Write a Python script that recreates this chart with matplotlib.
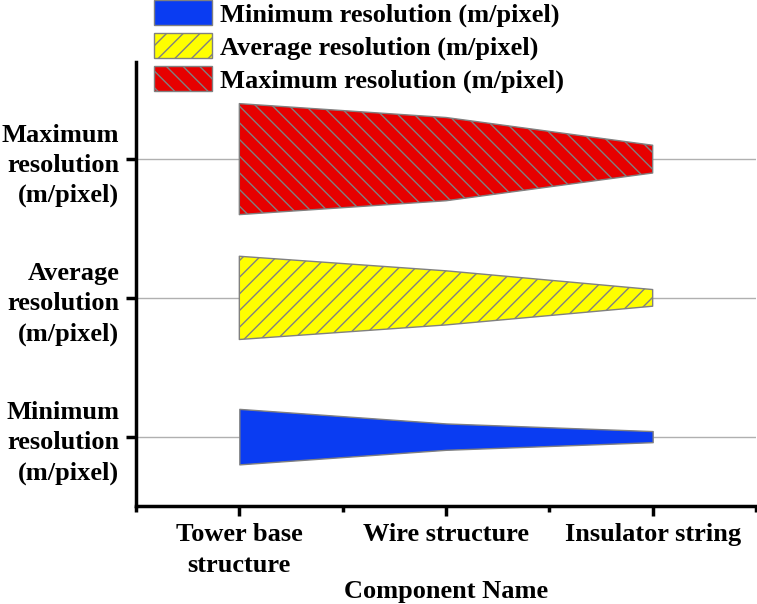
import matplotlib
matplotlib.use("Agg")
import matplotlib.pyplot as plt
import numpy as np
from matplotlib.ticker import FixedLocator

plt.rcParams['font.family'] = ['Liberation Serif', 'DejaVu Serif']
plt.rcParams['font.weight'] = 'bold'
plt.rcParams['hatch.color'] = '#808080'
plt.rcParams['hatch.linewidth'] = 1.0

# components on the x axis
components = ['Tower base\nstructure', 'Wire structure', 'Insulator string']
# rows (bottom to top)
series = ['Minimum resolution (m/pixel)', 'Average resolution (m/pixel)', 'Maximum resolution (m/pixel)']
row_labels = ['Minimum\nresolution\n(m/pixel)', 'Average\nresolution\n(m/pixel)', 'Maximum\nresolution\n(m/pixel)']

# band half-widths (in row units)
min_res = [0.20, 0.095, 0.04]
avg_res = [0.30, 0.195, 0.06]
max_res = [0.40, 0.30, 0.10]

colors = ['#0a3cf2', '#ffff00', '#e60000']
hatches = [None, '//', '\\\\']
fs = 19

fig = plt.figure(figsize=(7.57, 6.04), dpi=100)
ax = fig.add_axes([136/757, 1 - 506/604, 620/757, 444/604])

x = np.arange(1, len(components) + 1)
for i, vals in enumerate([min_res, avg_res, max_res]):
    base = i + 1
    v = np.array(vals)
    ax.axhline(base, color='#b0b0b0', lw=1, zorder=0)
    ax.fill_between(x, base - v, base + v, facecolor=colors[i], edgecolor='#808080',
                    hatch=hatches[i], lw=1, label=series[i], zorder=2)

ax.set_xlim(0.5, 3.5)
ax.set_ylim(0.5, 3.7)
ax.set_xticks(x)
ax.set_xticklabels(components, fontsize=fs, linespacing=1.45)
ax.xaxis.set_minor_locator(FixedLocator([0.5, 1.5, 2.5, 3.5]))
ax.set_yticks([1, 2, 3])
ax.set_yticklabels(row_labels, fontsize=fs, ha='right', linespacing=1.4)

for s in ['top', 'right']:
    ax.spines[s].set_visible(False)
for s in ['left', 'bottom']:
    ax.spines[s].set_linewidth(2.5)
ax.tick_params(axis='both', which='major', length=7, width=2.5, direction='out', pad=5)
ax.tick_params(axis='x', which='minor', length=4, width=2.5)
ax.set_xlabel('Component Name', fontsize=fs, fontweight='bold', labelpad=2)

leg = ax.legend(loc='upper left', bbox_to_anchor=(154/757, 1.0), bbox_transform=fig.transFigure,
                frameon=False, fontsize=fs, borderpad=0, borderaxespad=0,
                handlelength=2.2, handleheight=1.1, labelspacing=0.22, handletextpad=0.3)

fig.savefig('out.png', dpi=100)
